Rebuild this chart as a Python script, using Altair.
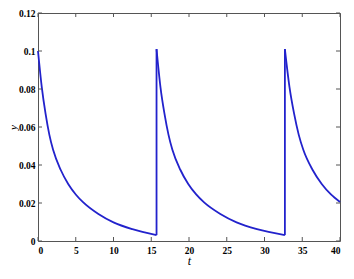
import altair as alt
import pandas as pd

# --- data ---
t1 = [0.0, 0.5, 1.0, 1.5, 2.0, 3.0, 4.0, 5.0, 6.0, 8.0, 10.0, 12.5, 15.7]
y1 = [0.100, 0.081, 0.067, 0.056, 0.048, 0.0375, 0.030, 0.0245, 0.0203, 0.0142, 0.0098, 0.0062, 0.0031]
t2 = [15.7, 16.22, 16.75, 17.28, 17.8, 18.85, 19.9, 20.95, 22.0, 24.15, 26.3, 29.0, 32.7]
y2 = [0.101, 0.081, 0.067, 0.056, 0.048, 0.0375, 0.030, 0.0245, 0.0203, 0.0142, 0.0098, 0.0062, 0.0031]
t3 = [32.7, 33.31, 33.92, 34.53, 35.14, 36.36, 37.58, 38.8, 40.0]
y3 = [0.101, 0.081, 0.067, 0.056, 0.048, 0.0375, 0.030, 0.0245, 0.0205]
jump_t = [15.7, 32.7]
jump_lo = [0.0031, 0.0031]
jump_hi = [0.101, 0.101]
x_ticks = [0, 5, 10, 15, 20, 25, 30, 35, 40]
y_ticks = [0, 0.02, 0.04, 0.06, 0.08, 0.10, 0.12]

rows = []
for c, (ts, vs) in enumerate([(t1, y1), (t2, y2), (t3, y3)]):
    for t, v in zip(ts, vs):
        rows.append({"cycle": c, "t": t, "y": v})
df = pd.DataFrame(rows)
jdf = pd.DataFrame({"t": jump_t, "lo": jump_lo, "hi": jump_hi})
xt = pd.DataFrame({"v": x_ticks})
yt = pd.DataFrame({"v": y_ticks})

PL, PT, PR, PB = 30, 5, 6, 27
W, H = 302, 228
BLUE = "#2222cc"
FRAME = "#555555"
xs = alt.Scale(domain=[0, 40], nice=False, zero=False)
ys = alt.Scale(domain=[0, 0.12], nice=False, zero=False)
xaxis = alt.Axis(values=x_ticks, title="t", labelPadding=4, titlePadding=1, format="d")
yaxis = alt.Axis(values=y_ticks, title="y", format=".2~f", labelPadding=3,
                 titleX=-PL + 5.8, titleY=H * 0.5, titleAngle=270, titleFontSize=11,
                 titleBaseline="middle", titleAlign="center")

line = alt.Chart(df).mark_line(color=BLUE, strokeWidth=1.8, interpolate="monotone").encode(
    x=alt.X("t:Q", scale=xs, axis=xaxis),
    y=alt.Y("y:Q", scale=ys, axis=yaxis),
    detail="cycle:N",
)
jumps = alt.Chart(jdf).mark_rule(color=BLUE, strokeWidth=1.8).encode(
    x=alt.X("t:Q", scale=xs, axis=xaxis),
    y=alt.Y("lo:Q", scale=ys, axis=yaxis),
    y2="hi:Q",
)
tb = alt.Chart(xt).mark_rule(color=FRAME, strokeWidth=1).encode(
    x=alt.X("v:Q", scale=xs, axis=xaxis), y=alt.value(H), y2=alt.value(H - 4))
tt = alt.Chart(xt).mark_rule(color=FRAME, strokeWidth=1).encode(
    x=alt.X("v:Q", scale=xs, axis=xaxis), y=alt.value(0), y2=alt.value(4))
tl = alt.Chart(yt).mark_rule(color=FRAME, strokeWidth=1).encode(
    y=alt.Y("v:Q", scale=ys, axis=yaxis), x=alt.value(0), x2=alt.value(4))
tr = alt.Chart(yt).mark_rule(color=FRAME, strokeWidth=1).encode(
    y=alt.Y("v:Q", scale=ys, axis=yaxis), x=alt.value(W), x2=alt.value(W - 4))

chart = alt.layer(line, jumps, tb, tt, tl, tr).properties(
    width=W, height=H,
    autosize=alt.AutoSizeParams(type="none"),
    padding={"left": PL, "top": PT, "right": PR, "bottom": PB},
).configure_view(stroke=FRAME, strokeWidth=1).configure_axis(
    domain=False, ticks=False, grid=False,
    labelFont="Liberation Serif", labelFontSize=9.5, labelColor="#000000", labelFontWeight="bold",
    titleFont="Liberation Serif", titleFontSize=12, titleFontStyle="italic",
    titleFontWeight="normal", titleColor="#000000",
)

chart.save("out.html", embed_options={"renderer": "svg", "actions": False})
